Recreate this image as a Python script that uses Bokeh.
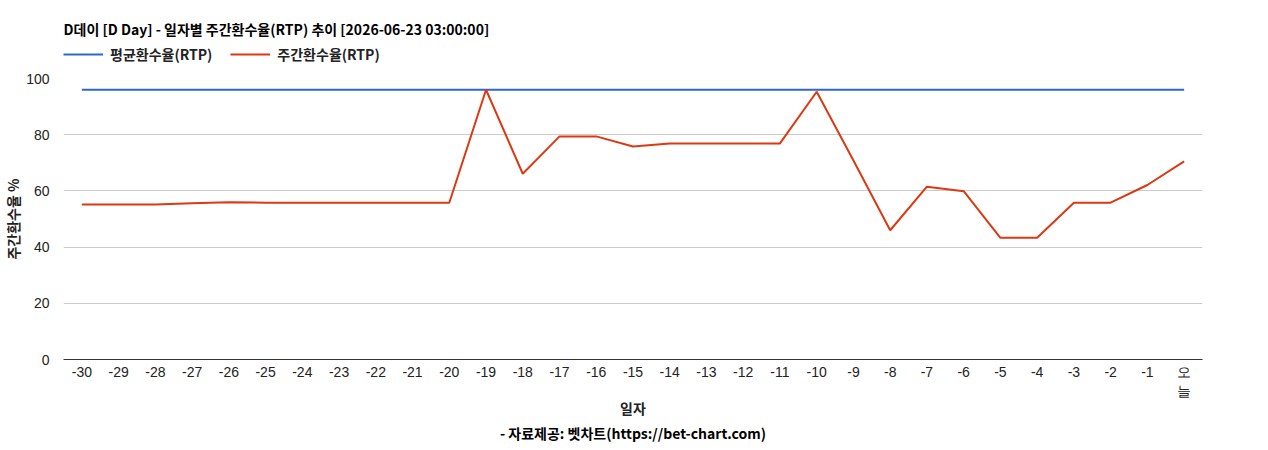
from bokeh.plotting import figure
from bokeh.models import Range1d, FactorRange, Legend, LegendItem, Title, ColumnDataSource, Label
from bokeh.layouts import column
from bokeh.embed import file_html
from bokeh.resources import INLINE

days = ["-30", "-29", "-28", "-27", "-26", "-25", "-24", "-23", "-22", "-21", "-20",
        "-19", "-18", "-17", "-16", "-15", "-14", "-13", "-12", "-11", "-10",
        "-9", "-8", "-7", "-6", "-5", "-4", "-3", "-2", "-1", "오\n늘"]
weekly_rtp = [55.2, 55.2, 55.2, 55.6, 56.0, 55.8, 55.8, 55.8, 55.8, 55.8, 55.8,
              96.0, 66.1, 79.4, 79.4, 75.8, 76.9, 76.9, 76.9, 76.9, 95.3,
              70.8, 46.0, 61.5, 59.9, 43.3, 43.3, 55.8, 55.8, 62.1, 70.5]
avg_rtp = [96.0] * len(days)
y_ticks = [0, 20, 40, 60, 80, 100]
series_names = ["평균환수율(RTP)", "주간환수율(RTP)"]
series_colors = ["#3366cc", "#dc3912"]
title_text = "D데이 [D Day] - 일자별 주간환수율(RTP) 추이 [2026-06-23 03:00:00]"
source_text = "- 자료제공: 벳차트(https://bet-chart.com)"

KR = "Noto Sans CJK KR"
NUM = "Liberation Sans"
W = 1250

src = ColumnDataSource(dict(day=days, w=weekly_rtp, a=avg_rtp))

# ---- header: title + legend (series drawn out of its view, used only for legend) ----
h = figure(width=W, height=70, output_backend="svg", toolbar_location=None,
           x_axis_location=None, y_axis_location=None, min_border=0,
           x_range=FactorRange(*days), y_range=Range1d(1000, 1001))
h.outline_line_color = None
h.grid.visible = False
h.add_layout(Label(x=0, y=42, x_units="screen", y_units="screen", text=title_text,
                   text_font=KR, text_font_size="14px", text_font_style="bold",
                   text_color="#000000", text_baseline="middle", text_align="left"))
leg_r = [h.line("day", col, source=src, line_color=c, line_width=2)
         for col, c in zip(["a", "w"], series_colors)]
legend = Legend(items=[LegendItem(label=n, renderers=[r]) for n, r in zip(series_names, leg_r)],
                orientation="horizontal", location=(0, 6),
                label_text_font=KR, label_text_font_size="14px", label_text_font_style="bold",
                label_text_color="#222222", glyph_width=40, glyph_height=20,
                label_standoff=7, spacing=18, padding=0, margin=0,
                border_line_color=None, background_fill_alpha=0)
h.add_layout(legend)

# ---- main chart ----
p = figure(width=W, height=372, x_range=FactorRange(*days), y_range=Range1d(0, 100),
           output_backend="svg", toolbar_location=None,
           min_border_left=55, min_border_right=48, min_border_bottom=0, min_border_top=8)

p.line("day", "a", source=src, line_color=series_colors[0], line_width=2)
p.line("day", "w", source=src, line_color=series_colors[1], line_width=2)

p.outline_line_color = None
p.xgrid.grid_line_color = None
p.ygrid.grid_line_color = "#cccccc"
p.ygrid.minor_grid_line_color = "#ebebeb"

p.yaxis.ticker = y_ticks
p.yaxis.axis_line_color = None
p.yaxis.major_tick_line_color = None
p.yaxis.minor_tick_line_color = None
p.yaxis.major_label_text_font = NUM
p.yaxis.major_label_text_font_size = "14px"
p.yaxis.major_label_text_color = "#222222"
p.yaxis.major_label_standoff = 8
p.yaxis.axis_label = "주간환수율 %"
p.yaxis.axis_label_text_font = KR
p.yaxis.axis_label_text_font_size = "14px"
p.yaxis.axis_label_text_font_style = "bold"
p.yaxis.axis_label_text_color = "#222222"
p.yaxis.axis_label_standoff = 0

p.xaxis.axis_line_color = "#333333"
p.xaxis.major_tick_line_color = None
p.xaxis.minor_tick_line_color = None
p.xaxis.major_label_text_font = NUM
p.xaxis.major_label_text_font_size = "14px"
p.xaxis.major_label_text_color = "#222222"
p.xaxis.major_label_standoff = -2
p.xaxis.axis_label = "일자"
p.xaxis.axis_label_text_font = KR
p.xaxis.axis_label_text_font_size = "14px"
p.xaxis.axis_label_text_font_style = "bold"
p.xaxis.axis_label_text_color = "#222222"
p.xaxis.axis_label_standoff = -4

p.add_layout(Title(text=source_text, align="center", text_font=KR, text_font_size="14px",
                   text_font_style="bold", text_color="#000000", standoff=0), "below")

open("out.html", "w").write(file_html(column(h, p, spacing=0), INLINE))
